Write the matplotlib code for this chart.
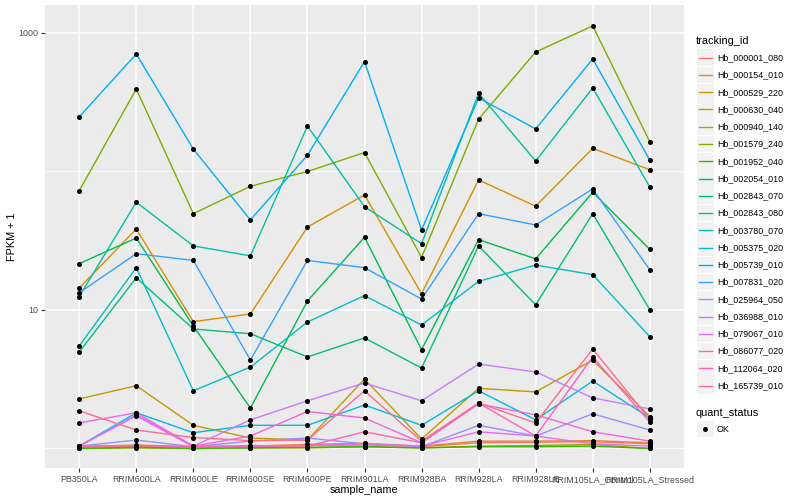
import matplotlib.pyplot as plt
from matplotlib.patches import Rectangle
from matplotlib.lines import Line2D
from matplotlib.ticker import NullFormatter

# data (values are FPKM + 1)
samples = ["PB350LA", "RRIM600LA", "RRIM600LE", "RRIM600SE", "RRIM600PE", "RRIM901LA",
           "RRIM928BA", "RRIM928LA", "RRIM928LE", "RRIM105LA_Control", "RRIM105LA_Stressed"]

tracking_ids = ["Hb_000001_080", "Hb_000154_010", "Hb_000529_220", "Hb_000630_040",
                "Hb_000940_140", "Hb_001579_240", "Hb_001952_040", "Hb_002054_010",
                "Hb_002843_070", "Hb_002843_080", "Hb_003780_070", "Hb_005375_020",
                "Hb_005739_010", "Hb_007831_020", "Hb_025964_050", "Hb_036988_010",
                "Hb_079067_010", "Hb_086077_020", "Hb_112064_020", "Hb_165739_010"]

hb_000001_080 = [1.02, 1.04, 1.02, 1.03, 1.05, 1.06, 1.03, 1.10, 1.11, 1.12, 1.08]
hb_000154_010 = [1.03, 1.06, 1.03, 1.04, 1.07, 1.09, 1.04, 1.13, 1.13, 1.14, 1.10]
hb_000529_220 = [14.4, 38.4, 8.24, 9.36, 39.7, 67.7, 13.1, 86.9, 56.1, 147, 103]
hb_000630_040 = [2.28, 2.84, 1.47, 1.19, 1.15, 3.17, 1.17, 2.72, 2.56, 4.35, 1.70]
hb_000940_140 = [1.00, 1.01, 1.00, 1.01, 1.01, 1.03, 1.01, 1.04, 1.05, 1.07, 1.00]
hb_001579_240 = [72.6, 394, 49.6, 78.2, 100, 137, 23.9, 239, 729, 1125, 164]
hb_001952_040 = [1.00, 1.02, 1.00, 1.01, 1.02, 1.03, 1.01, 1.03, 1.03, 1.04, 1.00]
hb_002054_010 = [21.6, 33.1, 7.66, 1.96, 11.6, 33.5, 5.17, 32.2, 23.4, 70.8, 27.4]
hb_002843_070 = [4.97, 17.1, 7.29, 6.74, 4.58, 6.28, 3.81, 29.0, 10.9, 49.6, 10.05]
hb_002843_080 = [12.5, 60.0, 29.0, 24.6, 213, 55.7, 30.1, 367, 119, 401, 77.3]
hb_003780_070 = [5.50, 20.2, 2.61, 3.87, 8.19, 12.7, 7.79, 16.1, 21.1, 18.0, 6.42]
hb_005375_020 = [1.04, 1.81, 1.30, 1.47, 1.47, 2.06, 1.47, 2.61, 1.61, 3.07, 1.66]
hb_005739_010 = [248, 705, 145, 44.7, 131, 622, 37.8, 340, 203, 649, 121]
hb_007831_020 = [13.3, 25.5, 22.8, 4.35, 22.8, 20.2, 12.0, 49.6, 41.1, 74.8, 19.5]
hb_025964_050 = [1.04, 1.15, 1.03, 1.13, 1.19, 1.08, 1.03, 1.47, 1.23, 1.78, 1.36]
hb_036988_010 = [1.04, 1.75, 1.04, 1.61, 2.21, 2.97, 2.21, 4.07, 3.57, 2.32, 1.93]
hb_079067_010 = [1.04, 1.72, 1.03, 1.04, 1.05, 1.08, 1.04, 1.32, 1.23, 1.08, 1.04]
hb_086077_020 = [1.53, 1.81, 1.04, 1.23, 1.85, 1.66, 1.10, 2.10, 1.75, 1.32, 1.13]
hb_112064_020 = [1.04, 1.05, 1.03, 1.05, 1.04, 1.32, 1.10, 2.13, 1.23, 4.58, 1.55]
hb_165739_010 = [1.87, 1.36, 1.20, 1.14, 1.15, 2.61, 1.13, 2.13, 1.53, 5.23, 1.62]

series = [hb_000001_080, hb_000154_010, hb_000529_220, hb_000630_040, hb_000940_140,
          hb_001579_240, hb_001952_040, hb_002054_010, hb_002843_070, hb_002843_080,
          hb_003780_070, hb_005375_020, hb_005739_010, hb_007831_020, hb_025964_050,
          hb_036988_010, hb_079067_010, hb_086077_020, hb_112064_020, hb_165739_010]

# ggplot default hue palette for 20 levels
colors = ["#F8766D", "#EA8331", "#D89000", "#C09B00", "#A3A500", "#7CAE00", "#39B600",
          "#00BB4E", "#00BF7D", "#00C1A3", "#00BFC4", "#00BAE0", "#00B0F6", "#35A2FF",
          "#9590FF", "#C77CFF", "#E76BF3", "#FA62DB", "#FF62BC", "#FF6C91"]

plt.rcParams['font.family'] = ['Liberation Sans', 'DejaVu Sans']

fig = plt.figure(figsize=(8, 5), dpi=100)
ax = fig.add_axes([45/800, 32/500, 639/800, 463/500])
ax.set_facecolor("#EBEBEB")

x = list(range(len(samples)))
for vals, c in zip(series, colors):
    ax.plot(x, vals, color=c, lw=1.0, zorder=3)
for vals in series:
    ax.plot(x, vals, 'o', color='black', ms=2.6, zorder=4)

ax.set_yscale('log')
ax.set_ylim(0.723, 1592)
ax.set_xlim(-0.6, len(samples) - 0.4)

ax.set_yticks([10, 1000])
ax.set_yticklabels(["10", "1000"])
ax.set_yticks([1, 100], minor=True)
ax.yaxis.set_minor_formatter(NullFormatter())
ax.tick_params(axis='y', which='minor', length=0)
ax.set_xticks(x)
ax.set_xticklabels(samples)
ax.tick_params(which='major', length=3, width=0.8, color='#333333',
               labelsize=6.4, labelcolor='#4D4D4D', pad=2)

ax.grid(True, which='major', color='white', lw=1.1, zorder=1)
ax.grid(True, which='minor', axis='y', color='white', lw=0.55, zorder=1)
ax.set_axisbelow(True)
for s in ax.spines.values():
    s.set_visible(False)

ax.set_xlabel("sample_name", fontsize=7.8, labelpad=1)
ax.set_ylabel("FPKM + 1", fontsize=7.8, labelpad=1)

# legend drawn by hand, ggplot style
def fx(px):
    return px / 800

def fy(py):
    return 1 - py / 500

fig.text(fx(696), fy(40.7), "tracking_id", fontsize=7.9, va='center', ha='left')
for i, (tid, c) in enumerate(zip(tracking_ids, colors)):
    yc = 57.7 + i * 17.26
    fig.add_artist(Rectangle((fx(697), fy(yc + 8.3)), 16.6/800, 16.6/500,
                             transform=fig.transFigure, color='#F2F2F2', lw=0))
    fig.add_artist(Line2D([fx(698.5), fx(712)], [fy(yc), fy(yc)],
                          transform=fig.transFigure, color=c, lw=1.0))
    fig.text(fx(717), fy(yc), tid, fontsize=6.4, va='center', ha='left')

fig.text(fx(696), fy(412.7), "quant_status", fontsize=7.9, va='center', ha='left')
fig.add_artist(Rectangle((fx(697), fy(429 + 8.3)), 16.6/800, 16.6/500,
                         transform=fig.transFigure, color='#F2F2F2', lw=0))
fig.add_artist(Line2D([fx(705)], [fy(429)], transform=fig.transFigure,
                      marker='o', color='black', ms=2.6, lw=0))
fig.text(fx(717), fy(429), "OK", fontsize=6.4, va='center', ha='left')

plt.savefig("out.png", dpi=100)
